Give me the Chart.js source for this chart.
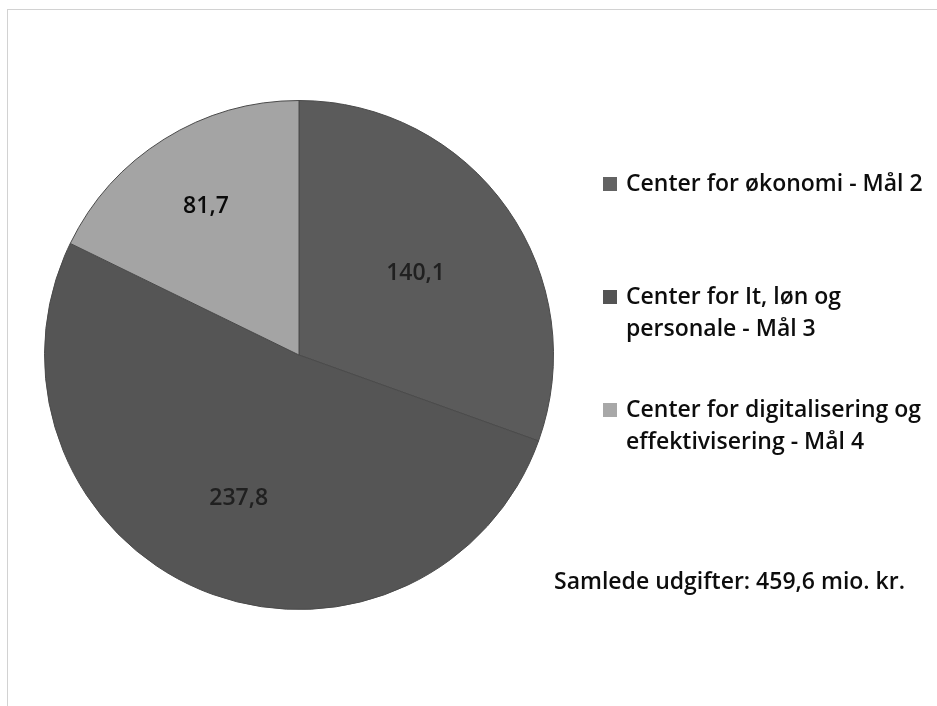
<!DOCTYPE html>
<html lang="da">
<head>
<meta charset="utf-8">
<title>Samlede udgifter</title>
<script src="https://cdn.jsdelivr.net/npm/chart.js@4.4.1/dist/chart.umd.min.js"></script>
<style>
  html, body { margin: 0; padding: 0; background: #fff; }
  #wrap { position: relative; width: 937px; height: 706px; overflow: hidden; }
  #frame {
    position: absolute; left: 7px; top: 9px; width: 960px; height: 720px;
    border-left: 1px solid #d2d2d2; border-top: 1px solid #d2d2d2;
  }
  #pie { position: absolute; left: 0; top: 0; }
</style>
</head>
<body>
<div id="wrap">
  <div id="frame"></div>
  <canvas id="pie" width="937" height="706"></canvas>
</div>
<script>
'use strict';
// ─────────────────────────────────────────────
//  DATA
// ─────────────────────────────────────────────

const CENTERS = [
  ['Center for økonomi - Mål 2'],
  ['Center for It, løn og', 'personale - Mål 3'],
  ['Center for digitalisering og', 'effektivisering - Mål 4'],
];
const EXPENSES = [140.1, 237.8, 81.7];
const TOTAL_NOTE = 'Samlede udgifter: 459,6 mio. kr.';

const SLICE_COLORS = ['#5b5b5b', '#555555', '#a4a4a4'];
const LEGEND_COLORS = ['#636363', '#545454', '#a8a8a8'];
const LABEL_RADIUS = [0.56, 0.61, 0.69];   // fraction of radius for value labels
const FONT = '"Open Sans", Lato, sans-serif';

const fmt = v => v.toFixed(1).replace('.', ',');

// ─────────────────────────────────────────────
//  PLUGINS
// ─────────────────────────────────────────────

const valueLabels = {
  id: 'valueLabels',
  afterDatasetsDraw(chart) {
    const { ctx } = chart;
    const meta = chart.getDatasetMeta(0);
    const data = chart.data.datasets[0].data;
    ctx.save();
    ctx.font = '600 23px ' + FONT;
    ctx.textAlign = 'center';
    ctx.textBaseline = 'middle';
    meta.data.forEach((arc, i) => {
      const p = arc.getProps(['x', 'y', 'startAngle', 'endAngle', 'outerRadius'], true);
      const mid = (p.startAngle + p.endAngle) / 2;
      const r = p.outerRadius * LABEL_RADIUS[i];
      ctx.fillStyle = i === 2 ? '#0a0a0a' : '#202020';
      ctx.fillText(fmt(data[i]), p.x + Math.cos(mid) * r, p.y + Math.sin(mid) * r);
    });
    ctx.restore();
  },
};

const sideLegend = {
  id: 'sideLegend',
  afterDraw(chart) {
    const { ctx } = chart;
    const x0 = 603, textX = 626, y0 = 184, slot = 113, lineH = 32;
    ctx.save();
    ctx.font = '600 23px ' + FONT;
    ctx.textBaseline = 'middle';
    chart.data.labels.forEach((lines, i) => {
      const y = y0 + i * slot;
      ctx.fillStyle = LEGEND_COLORS[i];
      ctx.fillRect(x0, y - 7, 14, 14);
      ctx.fillStyle = '#0d0d0d';
      lines.forEach((t, j) => ctx.fillText(t, textX, y + j * lineH));
    });
    ctx.fillText(TOTAL_NOTE, 554, 582);
    ctx.restore();
  },
};

// ─────────────────────────────────────────────
//  CHART
// ─────────────────────────────────────────────

new Chart(document.getElementById('pie'), {
  type: 'pie',
  data: {
    labels: CENTERS,
    datasets: [{
      data: EXPENSES,
      backgroundColor: SLICE_COLORS,
      borderColor: '#4a4a4a',
      borderWidth: 1,
    }],
  },
  options: {
    responsive: false,
    animation: false,
    layout: { padding: { left: 44, top: 100, right: 383, bottom: 96 } },
    plugins: {
      legend: { display: false },
      tooltip: { enabled: false },
    },
  },
  plugins: [valueLabels, sideLegend],
});
</script>
</body>
</html>
